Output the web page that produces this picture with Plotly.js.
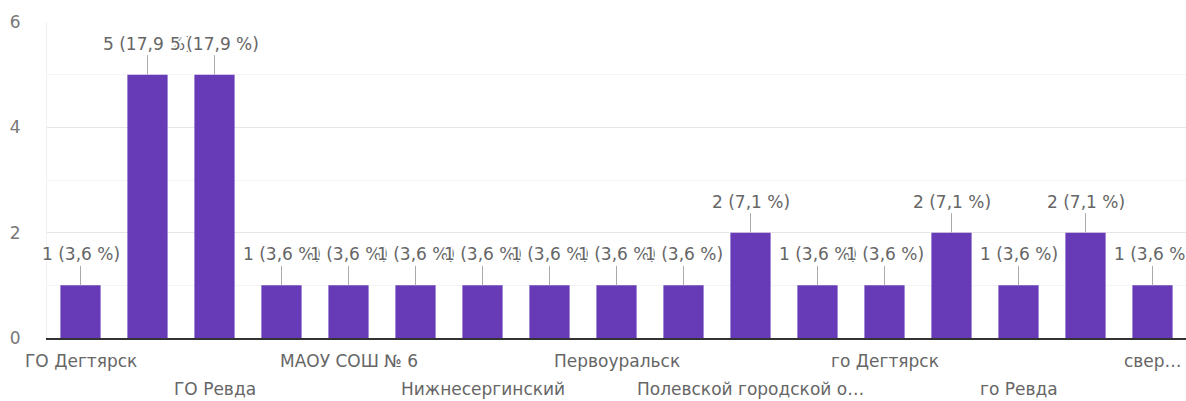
<!DOCTYPE html>
<html>
<head>
<meta charset="utf-8">
<script src="https://cdn.plot.ly/plotly-3.0.1.min.js"></script>
<style>
html,body{margin:0;padding:0;background:#fff;}
#chart{width:1186px;height:401px;}
</style>
</head>
<body>
<div id="chart"></div>
<script>
// Data (counts per answer)
const counts = [1, 5, 5, 1, 1, 1, 1, 1, 1, 1, 2, 1, 1, 2, 1, 2, 1];
// Visible tick labels (every second bar is labelled)
const tickPositions = [0, 2, 4, 6, 8, 10, 12, 14, 16];
const tickLabels = [
  "ГО Дегтярск",
  "ГО Ревда",
  "МАОУ СОШ № 6",
  "Нижнесергинский",
  "Первоуральск",
  "Полевской городской о…",
  "го Дегтярск",
  "го Ревда",
  "свер…"
];
const yTicks = [0, 2, 4, 6];

const FONT = "DejaVu Sans, Arial, sans-serif";
const total = counts.reduce((a, b) => a + b, 0);
const xs = counts.map((_, i) => i);
const fmtPct = v => (Math.round(v / total * 1000) / 10).toFixed(1).replace('.', ',');
const labels = counts.map(v => v + " (" + fmtPct(v) + " %)");

const aura = "1px 0 0 #fff, -1px 0 0 #fff, 0 1px 0 #fff, 0 -1px 0 #fff, 2px 0 0 #fff, -2px 0 0 #fff, 1px 1px 0 #fff, -1px -1px 0 #fff, 1px -1px 0 #fff, -1px 1px 0 #fff";

const valueAnnotations = counts.map((v, i) => ({
  x: xs[i], y: v, xref: 'x', yref: 'y',
  text: labels[i],
  showarrow: true, arrowhead: 0, arrowwidth: 1, arrowcolor: '#aaaaaa',
  ax: 0, ay: -31, standoff: 0,
  font: {family: FONT, size: 17, color: '#666666', shadow: aura}
}));

const tickAnnotations = tickPositions.map((p, k) => ({
  x: p, y: 0, xref: 'x', yref: 'paper',
  text: tickLabels[k],
  showarrow: false,
  xanchor: 'center', yanchor: 'top',
  yshift: k % 2 === 0 ? -11 : -39,
  font: {family: FONT, size: 17, color: '#666666'}
}));

const trace = {
  type: 'bar',
  x: xs,
  y: counts,
  marker: {color: '#673ab7'},
  hoverinfo: 'skip'
};

const layout = {
  width: 1186, height: 401,
  margin: {l: 47, r: 0, t: 22, b: 63},
  paper_bgcolor: '#fff', plot_bgcolor: '#fff',
  bargap: 0.4,
  showlegend: false,
  font: {family: FONT, size: 17, color: '#757575'},
  xaxis: {
    range: [-0.5, 16.5],
    showticklabels: false,
    showgrid: false,
    zeroline: false,
    showline: true, linecolor: '#333333', linewidth: 1.5,
    ticks: ''
  },
  yaxis: {
    range: [0, 6],
    tickvals: yTicks,
    showgrid: true, gridcolor: '#e6e6e6', gridwidth: 1,
    minor: {dtick: 1, showgrid: true, gridcolor: '#f4f4f4', gridwidth: 1},
    zeroline: false,
    showline: true, linecolor: '#f0f0f0', linewidth: 1,
    ticks: '', ticklabelstandoff: 22,
    tickfont: {family: FONT, size: 17, color: '#777777'}
  },
  annotations: valueAnnotations.concat(tickAnnotations)
};

Plotly.newPlot('chart', [trace], layout, {displayModeBar: false, staticPlot: true});
</script>
</body>
</html>
